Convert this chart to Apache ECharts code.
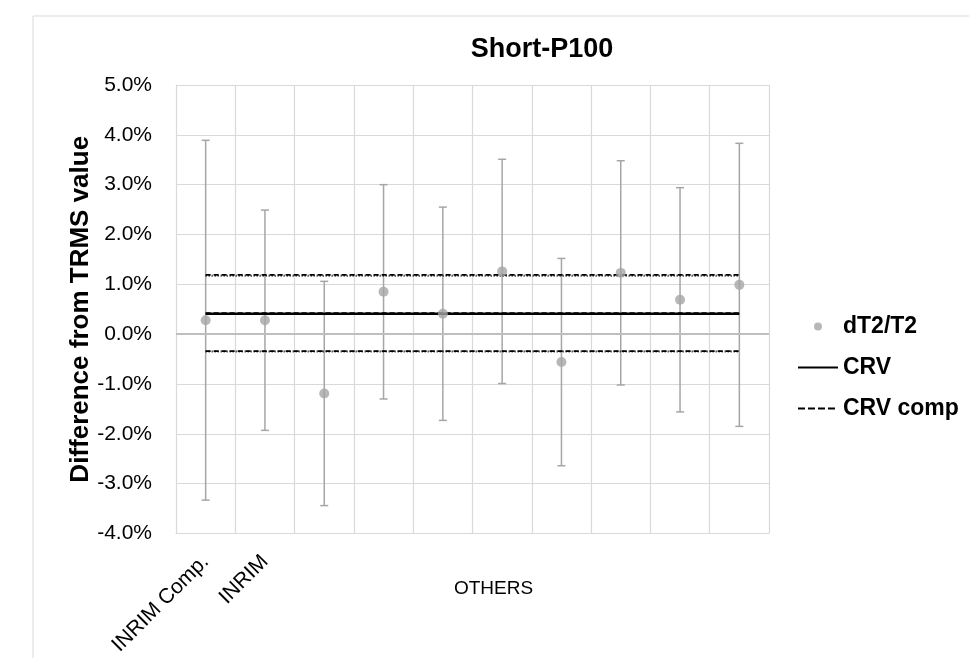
<!DOCTYPE html>
<html>
<head>
<meta charset="utf-8">
<script src="https://cdn.jsdelivr.net/npm/echarts@6/dist/echarts.min.js"></script>
<style>
  html, body { margin: 0; padding: 0; background: #fff; }
  #chart { width: 969px; height: 658px; }
</style>
</head>
<body>
<div id="chart"></div>
<script>
// values in percent
const labs   = ['INRIM Comp.', 'INRIM', '', '', '', '', '', '', '', '']
const dT     = [0.28, 0.28, -1.19, 0.85, 0.41, 1.26, -0.56, 1.23, 0.69, 0.99]
const uncert = [3.61, 2.21, 2.25, 2.15, 2.14, 2.25, 2.08, 2.25, 2.25, 2.84]
const crv     = 0.41
const crvComp = 0.42
const crvU    = [-0.35, 1.17]   // CRV +/- U
const compU   = [-0.34, 1.19]   // CRV comp +/- U
const yTicks  = { min: -4, max: 5, step: 1 }

const font = 'Liberation Sans, Arial, sans-serif'
const flat = v => labs.map(() => v)

// legend icons (40x14 box, tiny corner marks keep the box size)
const box = ' M0,0h0.01v0.01h-0.01z M40,14h0.01v0.01h-0.01z'
const icDot   = 'path://M16,7a4,4 0 1,0 8,0a4,4 0 1,0 -8,0z' + box
const icSolid = 'path://M0,6h40v2h-40z' + box
const icDash  = 'path://M0,6h7v2h-7z M10,6h7v2h-7z M20,6h7v2h-7z M30,6h7v2h-7z' + box

const chart = echarts.init(document.getElementById('chart'))

const lineS = (name, v, type, w) => ({
  name,
  type: 'line',
  data: flat(v),
  symbol: 'none',
  silent: true,
  color: '#000',
  lineStyle: { color: '#000', width: w, type },
  z: 3,
})

chart.setOption({
  backgroundColor: '#fff',
  textStyle: { fontFamily: font },
  animation: false,
  title: {
    text: 'Short-P100',
    left: 537,
    top: 31,
    textAlign: 'center',
    textStyle: { fontSize: 27, fontWeight: 'bold', color: '#000' },
  },
  graphic: [{
    type: 'rect',
    shape: { x: 33, y: 16, width: 1000, height: 700 },
    style: { fill: 'none', stroke: '#d9d9d9', lineWidth: 1 },
    silent: true,
  }],
  legend: {
    orient: 'vertical',
    left: 793,
    top: 310,
    itemWidth: 40,
    itemHeight: 14,
    itemGap: 18,
    textStyle: { fontSize: 23, fontWeight: 'bold', color: '#000' },
    data: [
      { name: 'dT2/T2', icon: icDot, itemStyle: { color: '#a5a5a5' } },
      { name: 'CRV', icon: icSolid, itemStyle: { color: '#000' } },
      { name: 'CRV comp', icon: icDash, itemStyle: { color: '#000' } },
    ],
  },
  grid: { left: 176, right: 200, top: 85, bottom: 123 },
  xAxis: {
    type: 'category',
    data: labs,
    boundaryGap: true,
    name: 'OTHERS',
    nameLocation: 'middle',
    nameGap: 46,
    nameMoveOverlap: false,
    nameTextStyle: { fontSize: 19, color: '#000', padding: [0, 0, 0, 42] },
    axisLine: { onZero: false, lineStyle: { color: '#d9d9d9' } },
    axisTick: { show: false },
    axisLabel: { interval: 0, rotate: 45, fontSize: 21, color: '#000', margin: 25 },
    splitLine: { show: true, interval: 0, lineStyle: { color: '#d9d9d9', width: 1.2 } },
  },
  yAxis: {
    type: 'value',
    min: yTicks.min,
    max: yTicks.max,
    interval: yTicks.step,
    name: 'Difference from TRMS value',
    nameLocation: 'middle',
    nameGap: 82,
    nameMoveOverlap: false,
    nameTextStyle: { fontSize: 26, fontWeight: 'bold', color: '#000' },
    axisLine: { show: true, lineStyle: { color: '#d9d9d9' } },
    axisTick: { show: false },
    axisLabel: { fontSize: 21, color: '#000', margin: 24, formatter: v => v.toFixed(1) + '%' },
    splitLine: { lineStyle: { color: '#d9d9d9', width: 1.2 } },
  },
  series: [
    {
      name: 'err',
      type: 'custom',
      silent: true,
      z: 2,
      data: dT.map((v, i) => [i, v - uncert[i], v + uncert[i]]),
      renderItem(params, api) {
        const lo = api.coord([api.value(0), api.value(1)])
        const hi = api.coord([api.value(0), api.value(2)])
        const c = 4
        const st = { stroke: '#a6a6a6', lineWidth: 1.5 }
        return {
          type: 'group',
          children: [
            { type: 'line', shape: { x1: lo[0], y1: lo[1], x2: hi[0], y2: hi[1] }, style: st },
            { type: 'line', shape: { x1: lo[0] - c, y1: lo[1], x2: lo[0] + c, y2: lo[1] }, style: st },
            { type: 'line', shape: { x1: hi[0] - c, y1: hi[1], x2: hi[0] + c, y2: hi[1] }, style: st },
          ],
        }
      },
      markLine: {
        silent: true,
        symbol: 'none',
        label: { show: false },
        lineStyle: { color: '#bfbfbf', width: 2, type: 'solid' },
        data: [{ yAxis: 0 }],
      },
    },
    lineS('CRV', crv, 'solid', 2.5),
    lineS('CRV comp', crvComp, [5, 3], 2),
    lineS('crvHi', crvU[1], [1, 2], 2),
    lineS('compHi', compU[1], [5, 3], 1.8),
    lineS('crvLo', crvU[0], [1, 2], 2),
    lineS('compLo', compU[0], [5, 3], 1.8),
    {
      name: 'dT2/T2',
      type: 'scatter',
      symbol: 'circle',
      symbolSize: 10,
      itemStyle: { color: '#a5a5a5' },
      data: dT.map((v, i) => [i, v]),
      z: 4,
    },
  ],
})
</script>
</body>
</html>
